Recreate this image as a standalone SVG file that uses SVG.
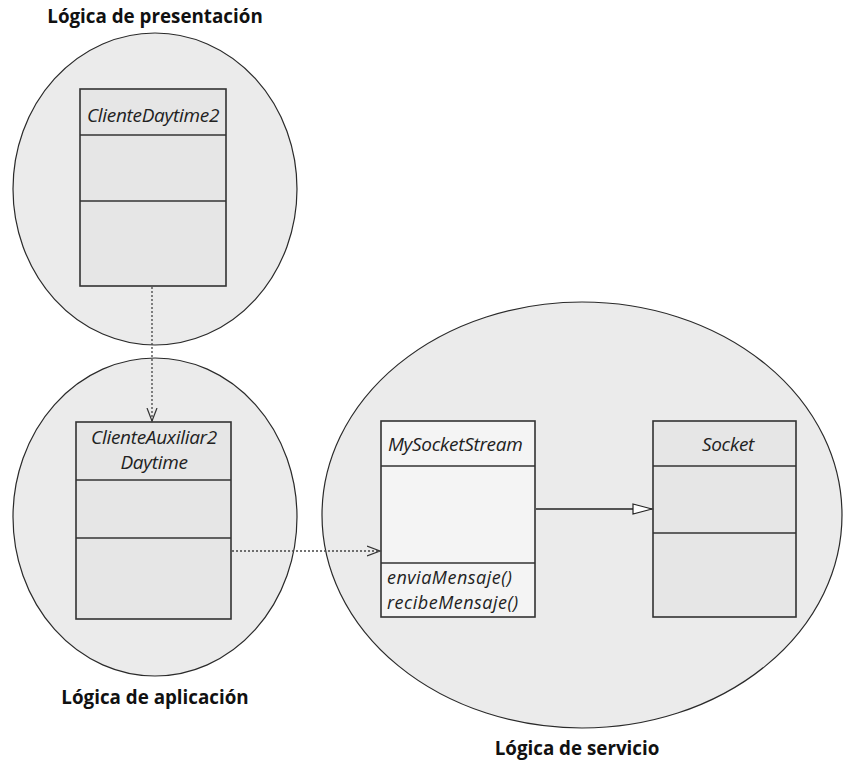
<svg xmlns="http://www.w3.org/2000/svg" width="850" height="766" viewBox="0 0 850 766">
  <style>
    .layer { fill: #ebebeb; stroke: #2a2a2a; stroke-width: 1.2; }
    .cls { fill: #e6e6e6; stroke: #333; stroke-width: 1.6; }
    .cls-light { fill: #f4f4f4; stroke: #333; stroke-width: 1.6; }
    .sep { stroke: #333; stroke-width: 1.6; }
    .name { font-family: "Open Sans", "Noto Sans", sans-serif; font-style: italic; font-size: 19px; fill: #222; letter-spacing: -0.3px; }
    .op { font-family: "Open Sans", "Noto Sans", sans-serif; font-style: italic; font-size: 18px; fill: #222; letter-spacing: 0.5px; }
    .title { font-family: "Open Sans", "Noto Sans", sans-serif; font-weight: bold; font-size: 18.8px; fill: #111; text-anchor: middle; }
    .dep { fill: none; stroke: #444; stroke-width: 1.3; stroke-dasharray: 2 2; }
    .assoc { fill: none; stroke: #222; stroke-width: 1.3; }
  </style>
  <defs>
    <marker id="open-v" markerWidth="16" markerHeight="14" refX="13" refY="6" orient="auto" markerUnits="userSpaceOnUse">
      <path d="M0,1 L13,6 L0,11" fill="none" stroke="#333" stroke-width="1.2"/>
    </marker>
    <marker id="hollow-tri" markerWidth="22" markerHeight="14" refX="20" refY="6" orient="auto" markerUnits="userSpaceOnUse">
      <path d="M1,1 L20,6 L1,11 Z" fill="#fff" stroke="#222" stroke-width="1.2"/>
    </marker>
  </defs>

  <rect width="850" height="766" fill="#fff"/>

  <!-- layer: presentation -->
  <g id="layer-presentacion">
    <ellipse class="layer" cx="155" cy="189" rx="142" ry="156"/>
    <text class="title" x="155" y="23">Lógica de presentación</text>
  </g>

  <!-- layer: application -->
  <g id="layer-aplicacion">
    <ellipse class="layer" cx="155" cy="517" rx="142" ry="159"/>
    <text class="title" x="155" y="704">Lógica de aplicación</text>
  </g>

  <!-- layer: service -->
  <g id="layer-servicio">
    <ellipse class="layer" cx="582" cy="515" rx="260" ry="213"/>
    <text class="title" x="577" y="755">Lógica de servicio</text>
  </g>

  <!-- class ClienteDaytime2 -->
  <g id="cliente-daytime2">
    <rect class="cls" x="80" y="89" width="146" height="197"/>
    <line class="sep" x1="80" y1="135" x2="226" y2="135"/>
    <line class="sep" x1="80" y1="201" x2="226" y2="201"/>
    <text class="name" x="153" y="122" text-anchor="middle">ClienteDaytime2</text>
  </g>

  <!-- class ClienteAuxiliar2Daytime -->
  <g id="cliente-auxiliar2-daytime">
    <rect class="cls" x="76" y="422" width="155" height="197"/>
    <line class="sep" x1="76" y1="480" x2="231" y2="480"/>
    <line class="sep" x1="76" y1="538" x2="231" y2="538"/>
    <text class="name" x="154" y="444" text-anchor="middle">ClienteAuxiliar2</text>
    <text class="name" x="154" y="469" text-anchor="middle">Daytime</text>
  </g>

  <!-- class MySocketStream -->
  <g id="my-socket-stream">
    <rect class="cls-light" x="381" y="421" width="154" height="196"/>
    <line class="sep" x1="381" y1="466" x2="535" y2="466"/>
    <line class="sep" x1="381" y1="563" x2="535" y2="563"/>
    <text class="name" x="388" y="451">MySocketStream</text>
    <text class="op" x="387" y="584">enviaMensaje()</text>
    <text class="op" x="387" y="609">recibeMensaje()</text>
  </g>

  <!-- class Socket -->
  <g id="socket">
    <rect class="cls" x="653" y="421" width="143" height="196"/>
    <line class="sep" x1="653" y1="466" x2="796" y2="466"/>
    <line class="sep" x1="653" y1="533" x2="796" y2="533"/>
    <text class="name" x="728" y="451" text-anchor="middle">Socket</text>
  </g>

  <!-- connectors -->
  <g id="connectors">
    <line class="dep" x1="152" y1="287" x2="152" y2="421" marker-end="url(#open-v)"/>
    <line class="dep" x1="232" y1="551" x2="380" y2="551" marker-end="url(#open-v)"/>
    <line class="assoc" x1="536" y1="509" x2="652" y2="509" marker-end="url(#hollow-tri)"/>
  </g>
</svg>
